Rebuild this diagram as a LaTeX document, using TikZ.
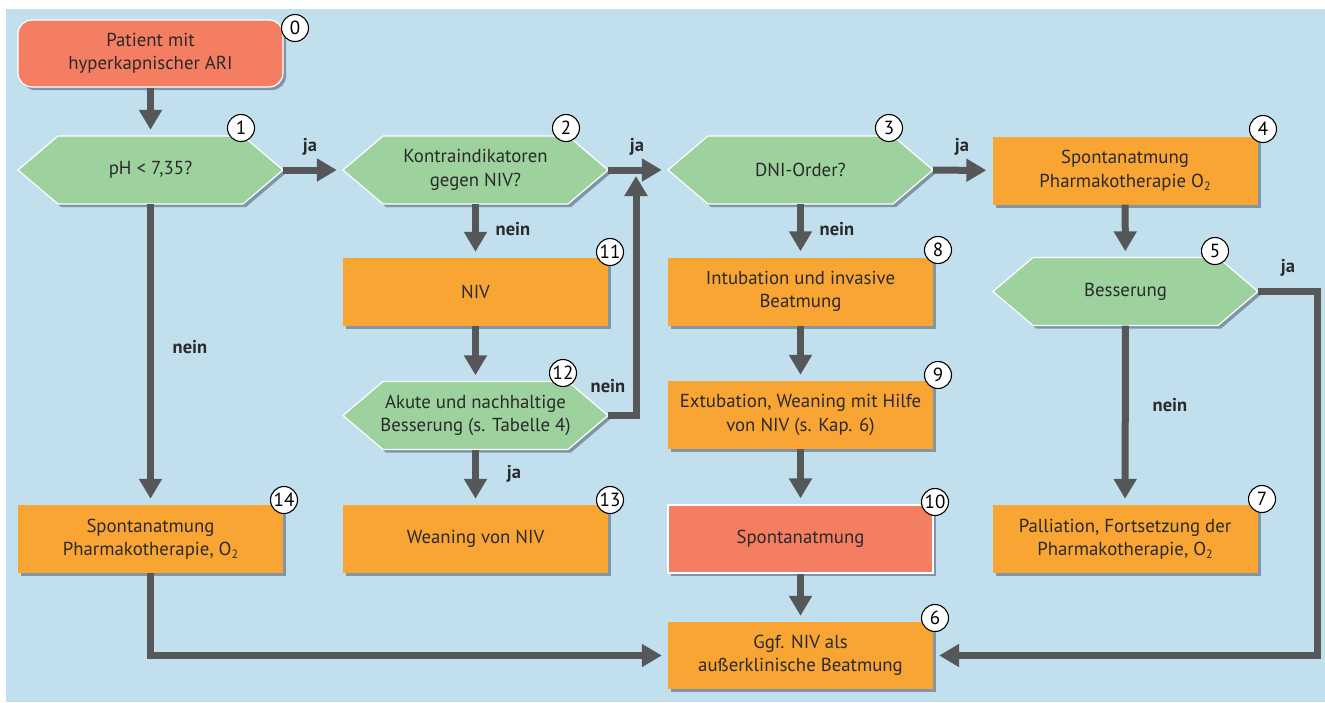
\documentclass[tikz,border=0pt]{standalone}
\usepackage{fontspec}
\setmainfont{PT Sans}
\usetikzlibrary{arrows.meta,shadows}
\definecolor{bgc}{HTML}{C2DFEE}
\definecolor{greenc}{HTML}{9DD19E}
\definecolor{orangec}{HTML}{F9A533}
\definecolor{salmonc}{HTML}{F47E62}
\definecolor{arrc}{HTML}{555759}
\definecolor{shadc}{HTML}{6E8494}
\definecolor{txtc}{HTML}{2A2A2A}
\newcommand{\hexshape}[2]{%
  \path[hexpath] (#1-132.5,#2) -- (#1-92.5,#2-34) -- (#1+92.5,#2-34) -- (#1+132.5,#2) -- (#1+92.5,#2+34) -- (#1-92.5,#2+34) -- cycle;}
\newcommand{\subtwo}{\raisebox{-0.35ex}{\fontsize{12}{12}\selectfont 2}}
\begin{document}
\begin{tikzpicture}[x=1pt,y=-1pt,
  every node/.style={text=txtc, font=\fontsize{18.8}{23.5}\selectfont, align=center},
  dshadow/.style={drop shadow={shadow xshift=3pt,shadow yshift=-3pt,fill=shadc,opacity=0.8}},
  hexpath/.style={fill=greenc, draw=white, line width=1.2pt, dshadow},
  hextext/.style={minimum width=265pt, minimum height=68pt, inner sep=0pt},
  boxo/.style={fill=orangec, minimum width=265pt, minimum height=68pt, inner sep=0pt, dshadow},
  boxs/.style={fill=salmonc, draw=white, line width=1.2pt, minimum width=265pt, minimum height=68pt, inner sep=0pt, dshadow},
  numc/.style={circle, draw=black, line width=1.1pt, fill=white, minimum size=27pt, inner sep=0pt, font=\fontsize{19}{19}\selectfont, text=black},
  arr/.style={draw=arrc, line width=7pt, -{Triangle[width=22pt,length=20pt]}, shorten >=6pt},
  lab/.style={font=\fontsize{18.5}{20}\bfseries\selectfont, text=txtc}
]
\useasboundingbox (0,0) rectangle (1325,702);
\fill[bgc] (6,9) rectangle (1325,702);

% start
\node[boxs, rounded corners=14pt, minimum height=67pt] (n0) at (150.5,53.5) {Patient mit\\hyperkapnischer ARI};

% hexagons
\hexshape{150.5}{170}
\node[hextext] (n1) at (150.5,170) {pH < 7,35?};
\hexshape{475.5}{170}
\node[hextext] (n2) at (475.5,170) {Kontraindikatoren\\gegen NIV?};
\hexshape{800.5}{170}
\node[hextext] (n3) at (800.5,170) {DNI-Order?};
\hexshape{1125.5}{291.5}
\node[hextext] (n5) at (1125.5,291.5) {Besserung};
\hexshape{475.5}{415.5}
\node[hextext] (n12) at (475.5,415.5) {Akute und nachhaltige\\Besserung (s. Tabelle 4)};

% boxes
\node[boxo] (n4) at (1125,170.5) {Spontanatmung\\Pharmakotherapie O\subtwo};
\node[boxo] (n7) at (1125,539) {Palliation, Fortsetzung der\\Pharmakotherapie, O\subtwo};
\node[boxo] (n8) at (800.5,291.5) {Intubation und invasive\\Beatmung};
\node[boxo] (n9) at (800.5,415) {Extubation, Weaning mit Hilfe\\von NIV (s. Kap. 6)};
\node[boxs] (n10) at (800.5,539) {Spontanatmung};
\node[boxo, minimum height=67pt] (n6) at (800.5,655.5) {Ggf. NIV als\\außerklinische Beatmung};
\node[boxo] (n11) at (475.5,292) {NIV};
\node[boxo] (n13) at (475.5,539) {Weaning von NIV};
\node[boxo] (n14) at (150.5,539) {Spontanatmung\\Pharmakotherapie, O\subtwo};

% connectors
\coordinate (j23) at (636,170);
\draw[arr] (n0) -- (n1);
\draw[arr] (n1) -- (n2);
\draw[arr] (n2) -- (n3);
\draw[arr] (n3) -- (n4);
\draw[arr] (n4) -- (n5);
\draw[arr] (n5) -- (n7);
\draw[arr] (n5.east) -- ++(59,0) |- (n6.east);
\draw[arr] (n3) -- (n8);
\draw[arr] (n8) -- (n9);
\draw[arr] (n9) -- (n10);
\draw[arr] (n10) -- (n6);
\draw[arr] (n2) -- (n11);
\draw[arr] (n11) -- (n12);
\draw[arr] (n12) -- (n13);
\draw[arr] (n12.east) -| (j23);
\draw[arr] (n1) -- (n14);
\draw[arr] (n14.south) |- (n6.west);

% labels
\node[lab] (l1) at (310,147) {ja};
\node[lab] (l2) at (637,147) {ja};
\node[lab] (l3) at (962,147) {ja};
\node[lab] (l4) at (1288,268) {ja};
\node[lab] (l5) at (1170,405) {nein};
\node[lab] (l6) at (837,229) {nein};
\node[lab] (l7) at (513,229) {nein};
\node[lab] (l8) at (190,347) {nein};
\node[lab] (l9) at (608,386) {nein};
\node[lab] (l10) at (514,474) {ja};

% numbers
\node[numc] (c0) at (295,28) {0};
\node[numc] (c1) at (241,128) {1};
\node[numc] (c2) at (566,128) {2};
\node[numc] (c3) at (889,128) {3};
\node[numc] (c4) at (1263,129) {4};
\node[numc] (c5) at (1215,251) {5};
\node[numc] (c6) at (935,618) {6};
\node[numc] (c7) at (1262,499) {7};
\node[numc] (c8) at (938,250) {8};
\node[numc] (c9) at (938,375) {9};
\node[numc] (c10) at (935,502) {10};
\node[numc] (c11) at (610,252) {11};
\node[numc] (c12) at (563,373) {12};
\node[numc] (c13) at (610,500) {13};
\node[numc] (c14) at (284,500) {14};
\end{tikzpicture}
\end{document}
